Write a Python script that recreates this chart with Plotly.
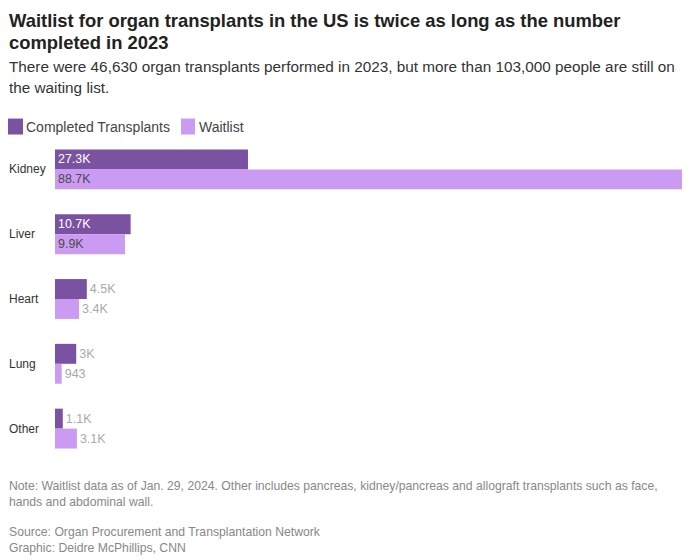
import plotly.graph_objects as go

categories = ["Kidney", "Liver", "Heart", "Lung", "Other"]
completed = [27300, 10700, 4500, 3000, 1100]
waitlist = [88700, 9900, 3400, 943, 3100]
completed_labels = ["27.3K", "10.7K", "4.5K", "3K", "1.1K"]
waitlist_labels = ["88.7K", "9.9K", "3.4K", "943", "3.1K"]
completed_pos = ["inside", "inside", "outside", "outside", "outside"]
waitlist_pos = ["inside", "inside", "outside", "outside", "outside"]

C1 = "#7b51a1"
C2 = "#cb9bf3"
FONT = "Liberation Sans, Arial, sans-serif"

OFF = 8  # page body margin
W, H = 693 - OFF, 560 - OFF
L = 55 - OFF
T = 136.5 - OFF
R = 11
B = H - (461.5 - OFF)
PH = H - T - B
PW = W - L - R

def py(y):
    return (H - B - (y - OFF)) / PH

def px(x):
    return ((x - OFF) - L) / PW

fig = go.Figure()
fig.add_trace(go.Bar(
    y=categories, x=completed, orientation="h", name="Completed Transplants",
    marker=dict(color=C1, line=dict(width=0)),
    text=completed_labels, textposition=completed_pos, insidetextanchor="start",
    insidetextfont=dict(color="#ffffff", size=12.5, family=FONT),
    outsidetextfont=dict(color="#aaaaaa", size=12.5, family=FONT),
    cliponaxis=False, hoverinfo="skip",
))
fig.add_trace(go.Bar(
    y=categories, x=waitlist, orientation="h", name="Waitlist",
    marker=dict(color=C2, line=dict(width=0)),
    text=waitlist_labels, textposition=waitlist_pos, insidetextanchor="start",
    insidetextfont=dict(color="#4a4a4a", size=12.5, family=FONT),
    outsidetextfont=dict(color="#aaaaaa", size=12.5, family=FONT),
    cliponaxis=False, hoverinfo="skip",
))

annotations = []
def txt(x, y, s, size, color, bold=False):
    annotations.append(dict(
        xref="paper", yref="paper", x=px(x), y=py(y), text=("<b>%s</b>" % s) if bold else s,
        showarrow=False, xanchor="left", yanchor="middle", align="left", borderpad=0,
        font=dict(size=size, color=color, family=FONT),
    ))

txt(8, 20, "Waitlist for organ transplants in the US is twice as long as the number", 18.4, "#222222", True)
txt(8, 42, "completed in 2023", 18.4, "#222222", True)
txt(8, 66, "There were 46,630 organ transplants performed in 2023, but more than 103,000 people are still on", 15.3, "#333333")
txt(8, 87, "the waiting list.", 15.3, "#333333")
txt(25, 126, "Completed Transplants", 14, "#444444")
txt(198, 126, "Waitlist", 14, "#444444")
txt(8, 487, "Note: Waitlist data as of Jan. 29, 2024. Other includes pancreas, kidney/pancreas and allograft transplants such as face,", 12.2, "#888888")
txt(8, 503, "hands and abdominal wall.", 12.2, "#888888")
txt(8, 533, "Source: Organ Procurement and Transplantation Network", 12.2, "#888888")
txt(8, 549, "Graphic: Deidre McPhillips, CNN", 12.2, "#888888")

for c in categories:
    annotations.append(dict(
        xref="paper", yref="y", x=px(8), y=c, text=c, showarrow=False, borderpad=0,
        xanchor="left", yanchor="middle", font=dict(size=12, color="#333333", family=FONT),
    ))

shapes = [
    dict(type="rect", xref="paper", yref="paper", x0=px(8), x1=px(23), y0=py(134), y1=py(118),
         fillcolor=C1, line=dict(width=0)),
    dict(type="rect", xref="paper", yref="paper", x0=px(181), x1=px(195), y0=py(134), y1=py(118),
         fillcolor=C2, line=dict(width=0)),
]

fig.update_layout(
    width=W, height=H, autosize=False,
    margin=dict(l=L, r=R, t=T, b=B, pad=0),
    paper_bgcolor="white", plot_bgcolor="white",
    barmode="group", bargap=25 / 65, bargroupgap=0,
    showlegend=False,
    xaxis=dict(range=[0, 88700], visible=False, fixedrange=True),
    yaxis=dict(autorange="reversed", showticklabels=False, showgrid=False, zeroline=False,
               showline=False, ticks="", fixedrange=True),
    annotations=annotations, shapes=shapes,
    uniformtext=dict(mode=False),
    font=dict(family=FONT),
)

fig.write_html("out.html")
